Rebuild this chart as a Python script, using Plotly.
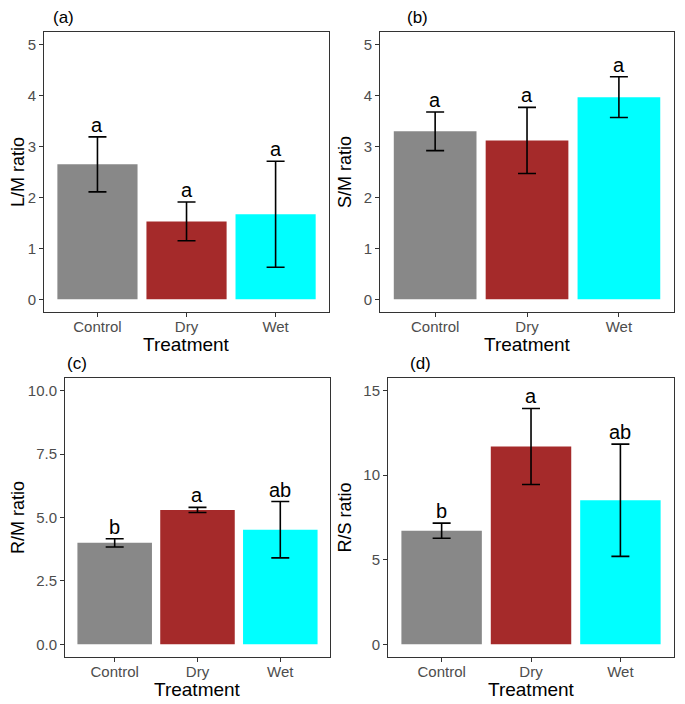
import plotly.graph_objects as go

categories = ["Control", "Dry", "Wet"]
colors = ["#888888", "#A52A2A", "#00FFFF"]

lm_mean = [2.65, 1.53, 1.67]
lm_err = [0.54, 0.38, 1.04]
lm_letters = ["a", "a", "a"]

sm_mean = [3.30, 3.12, 3.97]
sm_err = [0.38, 0.65, 0.40]
sm_letters = ["a", "a", "a"]

rm_mean = [4.00, 5.30, 4.52]
rm_err = [0.16, 0.10, 1.11]
rm_letters = ["b", "a", "ab"]

rs_mean = [6.72, 11.70, 8.52]
rs_err = [0.45, 2.25, 3.32]
rs_letters = ["b", "a", "ab"]

# page body has an 8px margin, so the figure is 8px smaller in each direction
W, H = 677, 696

panels = [
    dict(tag="(a)", ytitle="L/M ratio", mean=lm_mean, err=lm_err, letters=lm_letters,
         yrange=[-0.25, 5.25], tickvals=[0, 1, 2, 3, 4, 5], ticktext=["0", "1", "2", "3", "4", "5"],
         xdom=[0.0532, 0.4742], ydom=[0.5632, 0.9655], tagx=0.0827),
    dict(tag="(b)", ytitle="S/M ratio", mean=sm_mean, err=sm_err, letters=sm_letters,
         yrange=[-0.25, 5.25], tickvals=[0, 1, 2, 3, 4, 5], ticktext=["0", "1", "2", "3", "4", "5"],
         xdom=[0.5495, 0.9838], ydom=[0.5632, 0.9655], tagx=0.6056),
    dict(tag="(c)", ytitle="R/M ratio", mean=rm_mean, err=rm_err, letters=rm_letters,
         yrange=[-0.5, 10.5], tickvals=[0, 2.5, 5, 7.5, 10], ticktext=["0.0", "2.5", "5.0", "7.5", "10.0"],
         xdom=[0.0842, 0.4756], ydom=[0.0675, 0.4684], tagx=0.1012),
    dict(tag="(d)", ytitle="R/S ratio", mean=rs_mean, err=rs_err, letters=rs_letters,
         yrange=[-0.75, 15.75], tickvals=[0, 5, 10, 15], ticktext=["0", "5", "10", "15"],
         xdom=[0.5613, 0.9838], ydom=[0.0675, 0.4684], tagx=0.6086),
]

fig = go.Figure()
layout = dict(
    width=W, height=H,
    margin=dict(l=0, r=0, t=0, b=0),
    paper_bgcolor="white", plot_bgcolor="white",
    showlegend=False,
    font=dict(family="Arial, Liberation Sans, sans-serif", color="black"),
)
annotations = []
axis_col = "#4d4d4d"
for i, p in enumerate(panels):
    n = "" if i == 0 else str(i + 1)
    xa, ya = "x" + n, "y" + n
    fig.add_trace(go.Bar(
        x=categories, y=p["mean"], marker=dict(color=colors, line=dict(width=0)),
        width=0.9,
        error_y=dict(type="data", array=p["err"], color="black", thickness=1.6, width=9),
        xaxis=xa, yaxis=ya, hoverinfo="skip",
    ))
    layout["xaxis" + n] = dict(
        domain=p["xdom"], anchor=ya, range=[-0.6, 2.6], showgrid=False,
        showline=True, linecolor="#333333", linewidth=1, mirror=True,
        ticks="outside", ticklen=4, tickcolor="#333333",
        tickfont=dict(size=15, color=axis_col), ticklabelstandoff=-3,
        automargin=False, fixedrange=True,
    )
    layout["yaxis" + n] = dict(
        domain=p["ydom"], anchor=xa, range=p["yrange"], showgrid=False, zeroline=False,
        showline=True, linecolor="#333333", linewidth=1, mirror=True,
        ticks="outside", ticklen=4, tickcolor="#333333",
        tickvals=p["tickvals"], ticktext=p["ticktext"],
        tickfont=dict(size=15, color=axis_col),
        title=dict(text=p["ytitle"], font=dict(size=18, color="black"), standoff=7),
        automargin=False, fixedrange=True,
    )
    for c, m, e, l in zip(categories, p["mean"], p["err"], p["letters"]):
        annotations.append(dict(
            x=c, y=m + e, xref=xa, yref=ya, text=l, showarrow=False,
            yanchor="bottom", yshift=-1, font=dict(size=20, color="black"),
        ))
    annotations.append(dict(
        x=sum(p["xdom"]) / 2, y=p["ydom"][0] - 32 / H, xref="paper", yref="paper",
        text="Treatment", showarrow=False, xanchor="center", yanchor="middle",
        font=dict(size=19, color="black"),
    ))
    annotations.append(dict(
        x=p["tagx"], y=p["ydom"][1] + 3 / H, xref="paper", yref="paper", text=p["tag"],
        showarrow=False, xanchor="center", yanchor="bottom", font=dict(size=17, color="black"),
    ))

layout["annotations"] = annotations
fig.update_layout(**layout)
fig.write_html("out.html")
